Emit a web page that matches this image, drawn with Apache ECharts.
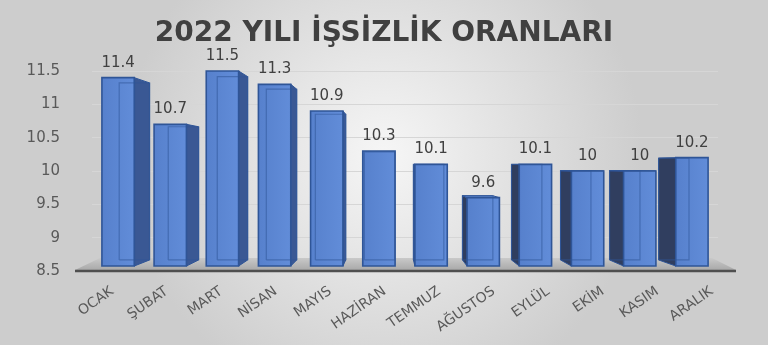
<!DOCTYPE html>
<html>
<head>
<meta charset="utf-8">
<script src="https://cdn.jsdelivr.net/npm/echarts@6/dist/echarts.min.js"></script>
<style>
html,body{margin:0;padding:0;background:#dcdcdc;}
#c{width:768px;height:345px;}
</style>
</head>
<body>
<div id="c"></div>
<script>
const titleText = '2022 YILI İŞSİZLİK ORANLARI';
const months = ['OCAK','ŞUBAT','MART','NİSAN','MAYIS','HAZİRAN','TEMMUZ','AĞUSTOS','EYLÜL','EKİM','KASIM','ARALIK'];
const rates = [11.4, 10.7, 11.5, 11.3, 10.9, 10.3, 10.1, 9.6, 10.1, 10, 10, 10.2];
const yMin = 8.5, yMax = 11.5, yStep = 0.5;

const chart = echarts.init(document.getElementById('c'), null, {renderer:'canvas'});

function renderItem(params, api) {
  const cs = params.coordSys;
  const i = api.value(0), v = api.value(1);
  const top = api.coord([i, v]);
  const base = api.coord([i, yMin]);
  const band = api.size([1, 0])[0];
  const w = band * 0.62;
  const cx = top[0];
  const x0 = cx - w / 2, x1 = cx + w / 2;
  const yT = top[1], yB = base[1] - 5;
  const Vx = cs.x + cs.width * 0.476, Vy = cs.y + cs.height * 0.47;
  const k = 0.06;
  const bk = p => [p[0] + (Vx - p[0]) * k, p[1] + (Vy - p[1]) * k];
  const A = [x0, yT], B = [x1, yT], C = [x1, yB], D = [x0, yB];
  const A2 = bk(A), B2 = bk(B), C2 = bk(C), D2 = bk(D);
  const children = [];
  if (params.dataIndex === 0) {
    const fl = cs.x - 17, fr = cs.x + cs.width + 18;
    children.push({
      type: 'polygon',
      shape: {points: [[fl, base[1] - 1], [fr, base[1] - 1], [cs.x + cs.width - 6, base[1] - 13], [cs.x + 8, base[1] - 13]]},
      style: {fill: {type:'linear', x:0, y:0, x2:0, y2:1, colorStops:[{offset:0,color:'#c9c9c9'},{offset:1,color:'#a9a9a9'}]}}
    });
    children.push({
      type: 'line',
      shape: {x1: fl, y1: base[1], x2: fr, y2: base[1]},
      style: {stroke: '#4f4f4f', lineWidth: 2.5}
    });
  }
  const edge = '#2f5597';
  if (x1 < Vx - 1) {
    children.push({type:'polygon', shape:{points:[B, B2, C2, C]}, style:{fill:'#3a5894', stroke: edge, lineWidth: 1}});
  } else if (x0 > Vx + 1) {
    children.push({type:'polygon', shape:{points:[A, A2, D2, D]}, style:{fill:'#303e5f', stroke: edge, lineWidth: 1}});
  }
  if (yT > Vy) {
    children.push({type:'polygon', shape:{points:[A, B, B2, A2]}, style:{fill:'#6b93db', stroke: edge, lineWidth: 1}});
  }
  children.push({
    type: 'rect',
    shape: {x: x0, y: yT, width: w, height: yB - yT},
    style: {fill: {type:'linear', x:0, y:0, x2:1, y2:0, colorStops:[{offset:0,color:'#5680cc'},{offset:1,color:'#628dd9'}]}, stroke: edge, lineWidth: 1.6}
  });
  children.push({
    type: 'polyline',
    shape: {points: [D2, A2, B2, C2, D2]},
    style: {fill: null, stroke: 'rgba(47,85,151,0.55)', lineWidth: 1.2}
  });
  children.push({
    type: 'text',
    style: {text: String(v), x: cx, y: yT - 15, align: 'center', verticalAlign: 'middle',
      fontSize: 15, fontFamily: 'DejaVu Sans', fill: '#404040'}
  });
  return {type: 'group', children};
}

chart.setOption({
  backgroundColor: {type:'radial', x:0.5, y:0.45, r:0.75, colorStops:[{offset:0,color:'#f6f6f6'},{offset:1,color:'#cdcdcd'}]},
  animation: false,
  title: {
    text: titleText, left: 'center', top: 15,
    textStyle: {fontFamily: 'DejaVu Sans', fontWeight: 'bold', fontSize: 28, color: '#404040'}
  },
  grid: [
    {left: 92, right: 50, top: 71, bottom: 74},
    {left: 85, right: 29, top: 71, bottom: 74}
  ],
  xAxis: [{
    type: 'category', data: months, gridIndex: 0,
    axisLine: {show: false}, axisTick: {show: false}, axisLabel: {show: false}
  }, {
    type: 'category', data: months, gridIndex: 1,
    axisLine: {show: false}, axisTick: {show: false}, splitLine: {show: false},
    axisLabel: {rotate: 35, margin: 19, fontFamily: 'DejaVu Sans', fontSize: 14, color: '#595959', interval: 0}
  }],
  yAxis: [{
    type: 'value', min: yMin, max: yMax, interval: yStep, gridIndex: 0,
    axisLine: {show: false}, axisTick: {show: false},
    axisLabel: {margin: 32, fontFamily: 'DejaVu Sans', fontSize: 15, color: '#595959'},
    splitLine: {lineStyle: {color: '#d6d6d6', width: 1}}
  }, {
    type: 'value', min: yMin, max: yMax, interval: yStep, gridIndex: 1, show: false
  }],
  series: [{
    type: 'custom',
    xAxisIndex: 0, yAxisIndex: 0,
    renderItem: renderItem,
    encode: {x: 0, y: 1},
    clip: false,
    data: rates.map((r, i) => [i, r])
  }]
});
</script>
</body>
</html>
